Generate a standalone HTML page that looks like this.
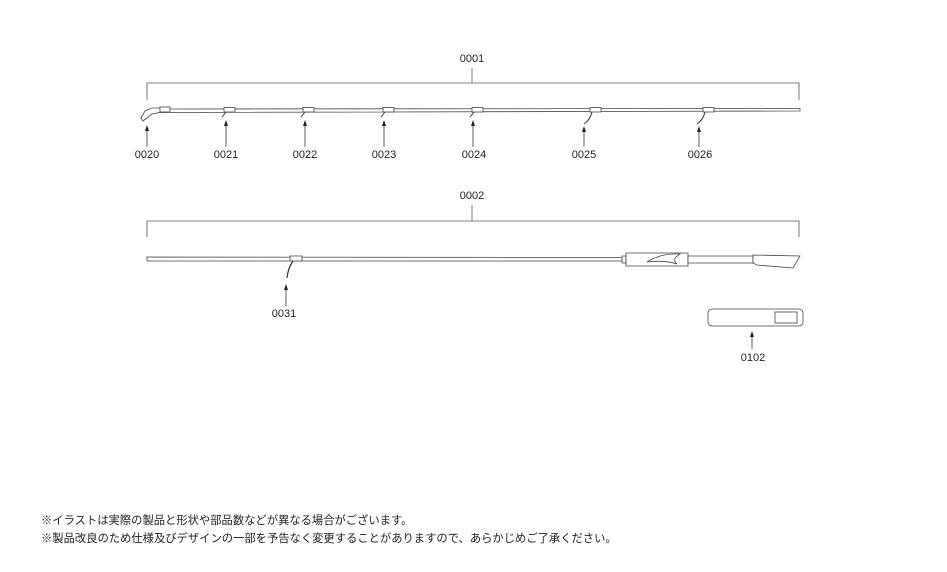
<!DOCTYPE html>
<html><head><meta charset="utf-8">
<style>
html,body{margin:0;padding:0;background:#fff;}
svg{display:block;}
.lbl{font-family:"Liberation Sans",sans-serif;font-size:11px;fill:#222;text-anchor:middle;}
.jp{font-family:"Liberation Sans","Noto Sans CJK JP",sans-serif;font-size:11.3px;fill:#222;}
</style></head><body>
<svg width="947" height="572" viewBox="0 0 947 572" xmlns="http://www.w3.org/2000/svg">
<defs>
<marker id="ah" markerWidth="6" markerHeight="8" refX="3" refY="0" orient="auto" markerUnits="userSpaceOnUse">
</marker>
</defs>
<g stroke="#555" stroke-width="0.8" fill="none">
<!-- bracket 1 -->
<path d="M147,100 V83 H799 V100"/>
<path d="M472,83 V68"/>
<!-- bracket 2 -->
<path d="M147,237 V221 H799 V237"/>
<path d="M472,221 V205"/>
</g>
<text class="lbl" x="472" y="62">0001</text>
<text class="lbl" x="472" y="199">0002</text>

<!-- rod 1 -->
<g stroke="#444" stroke-width="0.8" fill="#fff">
<path d="M160,109 L800,108.5 L800,111 L160,112.5 Z"/>
<path d="M141,118 L145,111 L152,108 L162,108 L162,112 L152,114 L143,121 Z"/>
<rect x="160" y="107" width="10" height="5"/>
<rect x="224" y="107.5" width="11" height="4.5"/>
<rect x="303" y="107.5" width="11" height="4.5"/>
<rect x="383" y="107.5" width="11" height="4.5"/>
<rect x="472" y="107.5" width="11" height="4.5"/>
<rect x="590" y="107.5" width="11" height="4.5"/>
<rect x="703" y="107.5" width="11" height="4.5"/>
</g>
<g stroke="#333" stroke-width="1" fill="none">
<path d="M226,112 L222,117"/>
<path d="M305,112 L301,117"/>
<path d="M385,112 L381,117"/>
<path d="M474,112 L470,117"/>
<path d="M592,112 Q590,120 584,124"/>
<path d="M705,112 Q703,120 697,124"/>
</g>
<!-- arrows row 1 -->
<g stroke="#333" stroke-width="0.8">
<line x1="147" y1="147" x2="147" y2="130"/>
<line x1="226" y1="147" x2="226" y2="124"/>
<line x1="305" y1="147" x2="305" y2="124"/>
<line x1="384" y1="147" x2="384" y2="124"/>
<line x1="473" y1="147" x2="473" y2="124"/>
<line x1="584" y1="147" x2="584" y2="130"/>
<line x1="699" y1="147" x2="699" y2="130"/>
</g>
<g fill="#222">
<path d="M147,125 l-2,6 h4z"/>
<path d="M226,120 l-2,6 h4z"/>
<path d="M305,120 l-2,6 h4z"/>
<path d="M384,120 l-2,6 h4z"/>
<path d="M473,120 l-2,6 h4z"/>
<path d="M584,126 l-2,6 h4z"/>
<path d="M699,126 l-2,6 h4z"/>
</g>
<text class="lbl" x="147" y="158">0020</text>
<text class="lbl" x="226" y="158">0021</text>
<text class="lbl" x="305" y="158">0022</text>
<text class="lbl" x="384" y="158">0023</text>
<text class="lbl" x="474" y="158">0024</text>
<text class="lbl" x="584" y="158">0025</text>
<text class="lbl" x="700" y="158">0026</text>

<!-- rod 2 -->
<g stroke="#444" stroke-width="0.8" fill="#fff">
<path d="M147,257 L622,257.5 L622,261 L147,261 Z"/>
<rect x="290" y="256" width="12" height="5"/>
<path d="M622,256 h4 v7 h-4z"/>
<path d="M626,253 H688 V266 H626 Z"/>
<path d="M647,262 Q660,254 674,254 H680 L675,258 Q674,262 677,264 Q665,260 647,262Z"/>
<path d="M688,256 H753 V263 H688 Z"/>
<path d="M753,255 L800,256 L793,268 L757,265 L753,263 Z"/>
</g>
<path d="M293,261 Q288,268 287,278" stroke="#333" stroke-width="1.2" fill="none"/>
<line x1="286" y1="306" x2="286" y2="290" stroke="#333" stroke-width="0.8"/>
<path d="M286,284 l-2,6 h4z" fill="#222"/>
<text class="lbl" x="284" y="317">0031</text>

<!-- box 0102 -->
<rect x="708" y="309" width="95" height="17" rx="4" stroke="#444" stroke-width="0.8" fill="#fff"/>
<rect x="775" y="312" width="22" height="11" stroke="#444" stroke-width="0.8" fill="#fff"/>
<line x1="752" y1="349" x2="752" y2="336" stroke="#333" stroke-width="0.8"/>
<path d="M752,331 l-2,6 h4z" fill="#222"/>
<text class="lbl" x="753" y="361">0102</text>

<text class="jp" x="41" y="524">※イラストは実際の製品と形状や部品数などが異なる場合がございます。</text>
<text class="jp" x="41" y="542">※製品改良のため仕様及びデザインの一部を予告なく変更することがありますので、あらかじめご了承ください。</text>
</svg>
</body></html>
